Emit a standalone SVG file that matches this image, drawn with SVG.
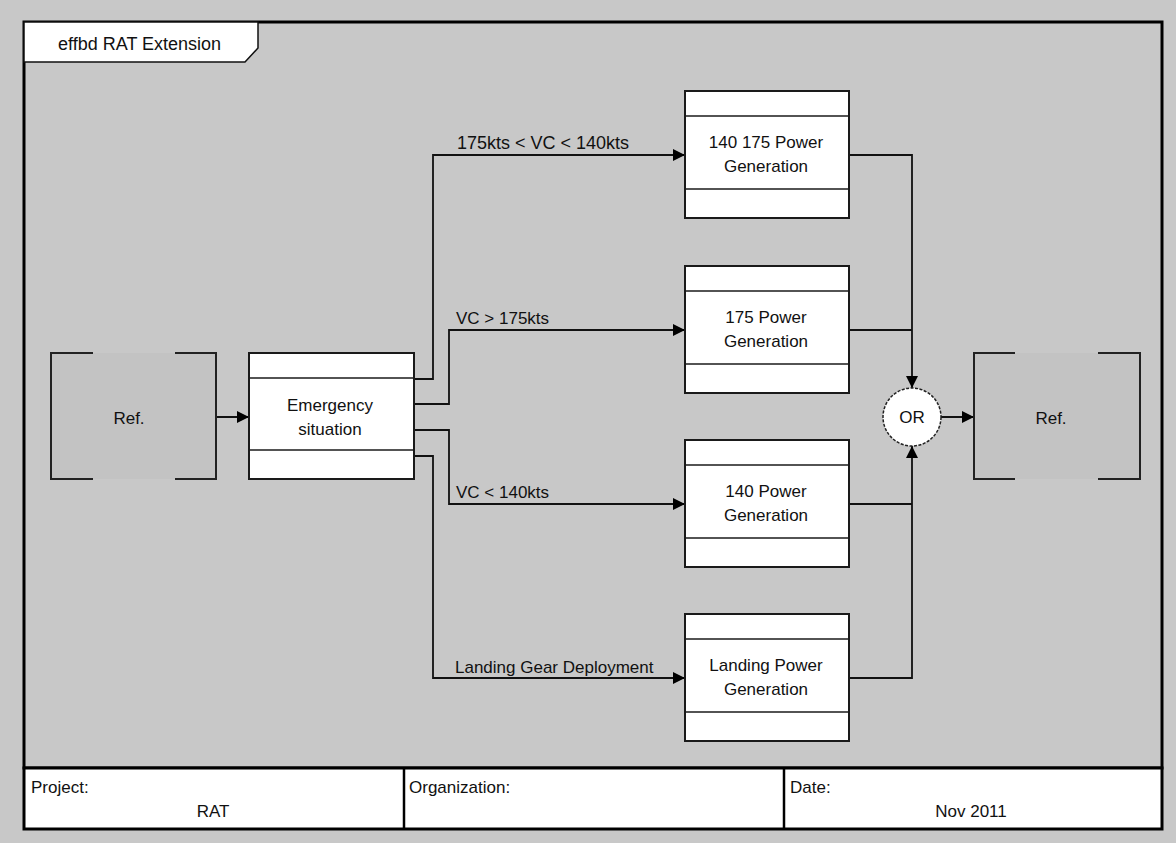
<svg xmlns="http://www.w3.org/2000/svg" width="1176" height="843" viewBox="0 0 1176 843">
<defs>
<marker id="arr" markerUnits="userSpaceOnUse" markerWidth="12" markerHeight="12" refX="12" refY="6" orient="auto">
<path d="M0,0 L12,6 L0,12 z" fill="#000"/>
</marker>
<style>
text{font-family:"Liberation Sans",Arial,sans-serif;font-size:17px;fill:#111}
.c{text-anchor:middle}
.box{fill:#fff;stroke:#1a1a1a;stroke-width:2}
.sep{stroke:#1a1a1a;stroke-width:1.6}
.br{fill:none;stroke:#222;stroke-width:2}
.refbg{fill:#c3c3c3}
.ln{fill:none;stroke:#111;stroke-width:1.8}
.frame{fill:none;stroke:#000;stroke-width:3}
</style>
</defs>
<rect width="1176" height="843" fill="#c8c8c8"/>
<rect class="frame" x="24" y="22" width="1138" height="746"/>
<g id="tab">
<path d="M24,22 H258 V48 L245,62 H24 Z" fill="#fff" stroke="#111" stroke-width="1.5"/>
<text x="58" y="50" style="font-size:18px">effbd RAT Extension</text>
</g>
<g id="footer">
<rect x="24" y="768" width="1138" height="61" fill="#fff" stroke="#000" stroke-width="3"/>
<line x1="404" y1="768" x2="404" y2="829" stroke="#000" stroke-width="2.5"/>
<line x1="784" y1="768" x2="784" y2="829" stroke="#000" stroke-width="2.5"/>
<text x="31" y="793">Project:</text>
<text class="c" x="213" y="817">RAT</text>
<text x="409" y="793">Organization:</text>
<text x="790" y="793">Date:</text>
<text class="c" x="971" y="817">Nov 2011</text>
</g>
<g id="connectors">
<path class="ln" d="M216,417 H249" marker-end="url(#arr)"/>
<path class="ln" d="M414,379 H433 V155 H685" marker-end="url(#arr)"/>
<path class="ln" d="M414,404 H449 V330 H685" marker-end="url(#arr)"/>
<path class="ln" d="M414,430 H449 V504 H685" marker-end="url(#arr)"/>
<path class="ln" d="M414,456 H433 V678 H685" marker-end="url(#arr)"/>
<path class="ln" d="M849,155 H912 V388" marker-end="url(#arr)"/>
<path class="ln" d="M849,330 H912"/>
<path class="ln" d="M849,504 H912"/>
<path class="ln" d="M849,678 H912 V446" marker-end="url(#arr)"/>
<path class="ln" d="M941,417 H974" marker-end="url(#arr)"/>
<text x="457" y="149" style="font-size:18px">175kts &lt; VC &lt; 140kts</text>
<text x="456" y="324">VC &gt; 175kts</text>
<text x="456" y="498">VC &lt; 140kts</text>
<text x="455" y="673">Landing Gear Deployment</text>
</g>
<g id="ref-left">
<rect class="refbg" x="51" y="353" width="165" height="126"/>
<path class="br" d="M93,353 H51 V479 H93 M175,353 H216 V479 H175"/>
<text class="c" x="129" y="424">Ref.</text>
</g>
<g id="emergency">
<rect class="box" x="249" y="353" width="165" height="126"/>
<line class="sep" x1="249" y1="378" x2="414" y2="378"/>
<line class="sep" x1="249" y1="450" x2="414" y2="450"/>
<text class="c" x="330" y="411">Emergency</text>
<text class="c" x="330" y="435">situation</text>
</g>
<g id="gen-140-175">
<rect class="box" x="685" y="91" width="164" height="127"/>
<line class="sep" x1="685" y1="116" x2="849" y2="116"/>
<line class="sep" x1="685" y1="189" x2="849" y2="189"/>
<text class="c" x="766" y="148">140 175 Power</text>
<text class="c" x="766" y="172">Generation</text>
</g>
<g id="gen-175">
<rect class="box" x="685" y="266" width="164" height="127"/>
<line class="sep" x1="685" y1="291" x2="849" y2="291"/>
<line class="sep" x1="685" y1="364" x2="849" y2="364"/>
<text class="c" x="766" y="323">175 Power</text>
<text class="c" x="766" y="347">Generation</text>
</g>
<g id="gen-140">
<rect class="box" x="685" y="440" width="164" height="127"/>
<line class="sep" x1="685" y1="465" x2="849" y2="465"/>
<line class="sep" x1="685" y1="538" x2="849" y2="538"/>
<text class="c" x="766" y="497">140 Power</text>
<text class="c" x="766" y="521">Generation</text>
</g>
<g id="gen-landing">
<rect class="box" x="685" y="614" width="164" height="127"/>
<line class="sep" x1="685" y1="639" x2="849" y2="639"/>
<line class="sep" x1="685" y1="712" x2="849" y2="712"/>
<text class="c" x="766" y="671">Landing Power</text>
<text class="c" x="766" y="695">Generation</text>
</g>
<g id="or">
<circle cx="912" cy="417" r="29" fill="#fff" stroke="#222" stroke-width="1.5" stroke-dasharray="3,1.5"/>
<text class="c" x="912" y="423">OR</text>
</g>
<g id="ref-right">
<rect class="refbg" x="974" y="353" width="166" height="126"/>
<path class="br" d="M1015,353 H974 V479 H1015 M1098,353 H1140 V479 H1098"/>
<text class="c" x="1051" y="424">Ref.</text>
</g>
</svg>
